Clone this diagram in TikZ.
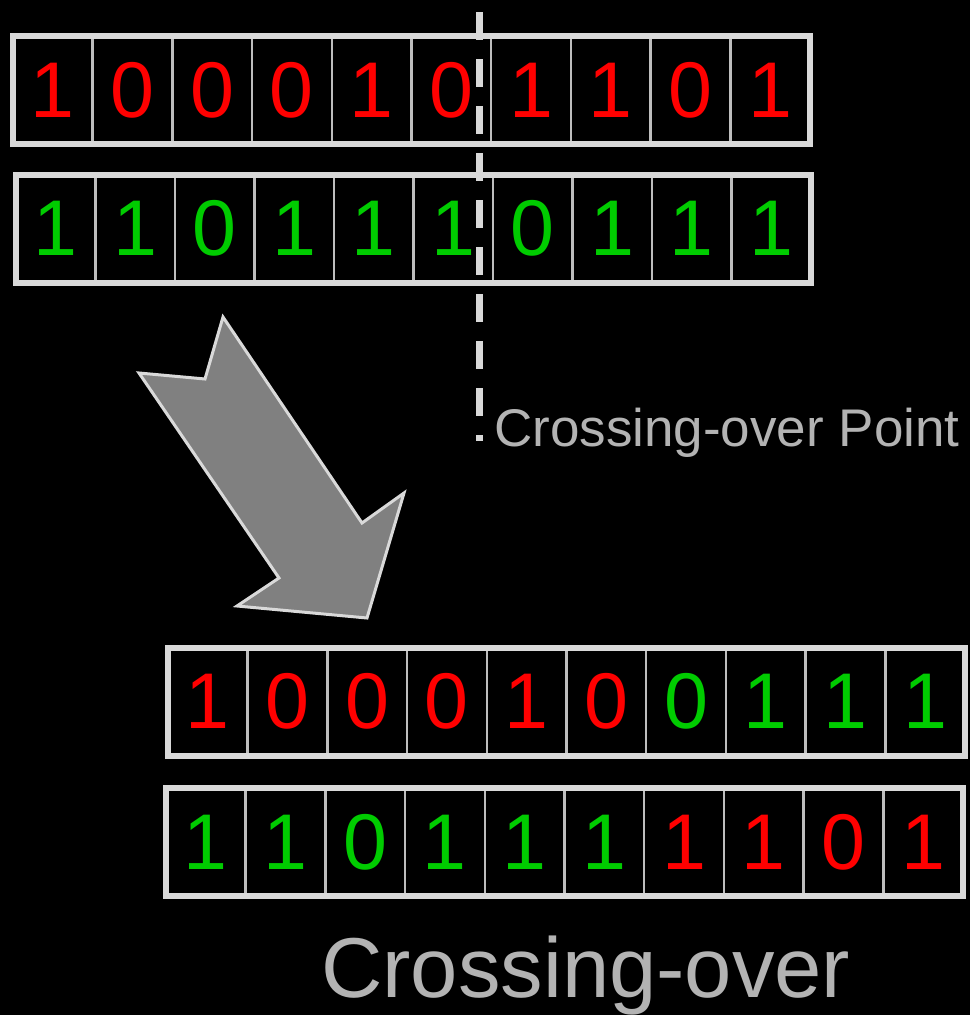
\documentclass[tikz,border=0pt]{standalone}
\usepackage{fontspec}
\setmainfont{Liberation Sans}

\definecolor{bitred}{RGB}{255,0,0}
\definecolor{bitgreen}{RGB}{0,204,0}
\definecolor{framegray}{RGB}{217,217,217}
\definecolor{cellgray}{RGB}{190,190,190}
\definecolor{labelgray}{RGB}{179,179,179}
\definecolor{arrowgray}{RGB}{128,128,128}

\tikzset{
	bit/.style={draw=cellgray,line width=2.5pt,minimum width=79.7pt,minimum height=108pt,
		inner sep=0pt,outer sep=0pt,font=\fontsize{79}{79}\selectfont},
	chromframe/.style={draw=framegray,line width=6pt},
	bigarrow/.style={fill=arrowgray,draw=framegray,line width=3pt,line join=miter},
	cutline/.style={draw=framegray,line width=7pt,dash pattern=on 28pt off 19pt},
}

\begin{document}
\begin{tikzpicture}[x=1pt,y=-1pt]
	\fill[black] (0,0) rectangle (970,1015);
	\useasboundingbox (0,0) rectangle (970,1015);

	% parents
	\foreach \b/\c [count=\i] in {1/bitred,0/bitred,0/bitred,0/bitred,1/bitred,0/bitred,1/bitred,1/bitred,0/bitred,1/bitred}
		\node[bit,text=\c] (parA-\i) at ({13+79.7*(\i-0.5)},90) {\b};
	\draw[chromframe] (parA-1.north west) rectangle (parA-10.south east);

	\foreach \b/\c [count=\i] in {1/bitgreen,1/bitgreen,0/bitgreen,1/bitgreen,1/bitgreen,1/bitgreen,0/bitgreen,1/bitgreen,1/bitgreen,1/bitgreen}
		\node[bit,text=\c] (parB-\i) at ({16+79.5*(\i-0.5)},228.5) {\b};
	\draw[chromframe] (parB-1.north west) rectangle (parB-10.south east);

	% offspring
	\foreach \b/\c [count=\i] in {1/bitred,0/bitred,0/bitred,0/bitred,1/bitred,0/bitred,0/bitgreen,1/bitgreen,1/bitgreen,1/bitgreen}
		\node[bit,text=\c] (offA-\i) at ({168+79.7*(\i-0.5)},701.5) {\b};
	\draw[chromframe] (offA-1.north west) rectangle (offA-10.south east);

	\foreach \b/\c [count=\i] in {1/bitgreen,1/bitgreen,0/bitgreen,1/bitgreen,1/bitgreen,1/bitgreen,1/bitred,1/bitred,0/bitred,1/bitred}
		\node[bit,text=\c] (offB-\i) at ({166+79.7*(\i-0.5)},842) {\b};
	\draw[chromframe] (offB-1.north west) rectangle (offB-10.south east);

	% arrow
	\draw[bigarrow] (223,317) -- (205,379) -- (139,373) -- (279,578) -- (237,606)
		-- (367,618) -- (404,493) -- (362,523) -- cycle;

	% crossing point
	\coordinate (cuttop) at (479.5,12);
	\coordinate (cutbot) at (479.5,441);
	\draw[cutline] (cuttop) -- (cutbot);
	\node[anchor=base west,inner sep=0pt,text=labelgray,font=\fontsize{53}{53}\selectfont]
		(cutlabel) at (494,446) {Crossing-over Point};

	\node[anchor=base west,inner sep=0pt,text=labelgray,font=\fontsize{85}{85}\selectfont]
		(title) at (321,997) {Crossing-over};
\end{tikzpicture}
\end{document}
